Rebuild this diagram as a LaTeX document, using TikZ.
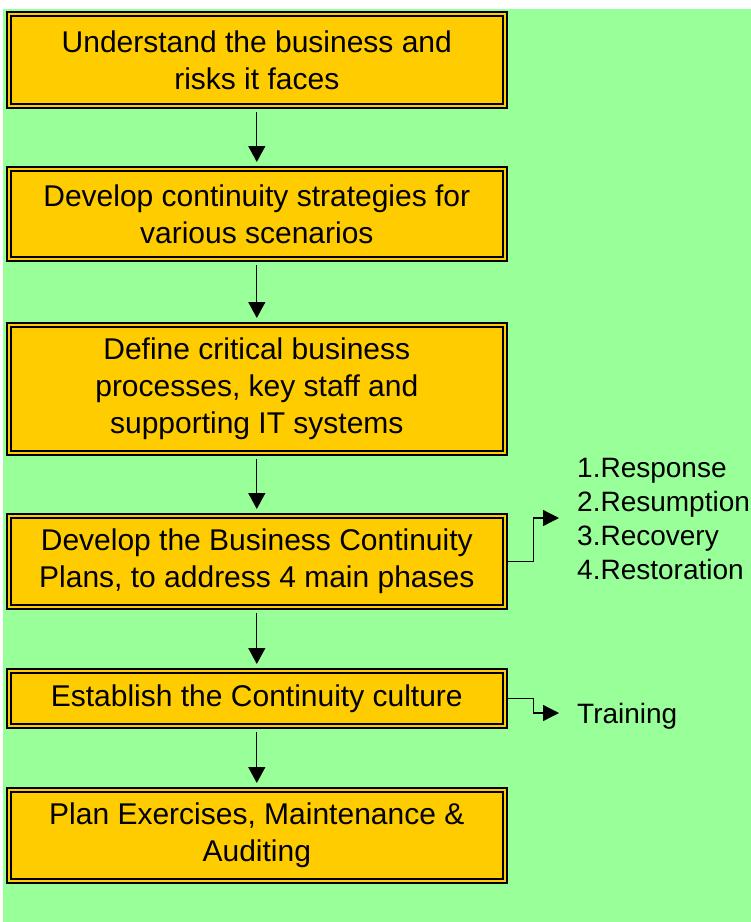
\documentclass[tikz,border=0pt]{standalone}
\usepackage{fontspec}
\setmainfont{Liberation Sans}
\usetikzlibrary{arrows.meta}
\definecolor{pagegreen}{HTML}{99FF99}
\definecolor{boxyellow}{HTML}{FFCC00}
\tikzset{
  stepbox/.style={draw=black, line width=2pt, double=boxyellow, double distance=2pt,
    fill=boxyellow, minimum width=496pt, inner sep=0pt, align=center,
    font=\fontsize{30}{37}\selectfont},
  flow/.style={line width=1.3pt, -{Triangle[length=16pt,width=17pt]},
    shorten <=5pt, shorten >=6pt},
  side/.style={line width=1.3pt, -{Triangle[length=16pt,width=16pt]}},
  note/.style={anchor=west, inner sep=0pt, align=left,
    font=\fontsize{28}{34}\selectfont}
}
\begin{document}
\begin{tikzpicture}[x=1pt,y=-1pt]
\useasboundingbox (0,0) rectangle (751,922);
\fill[pagegreen] (3,9) rectangle (751,922);

\node[stepbox, minimum height=92pt] (b1) at (256.8,60)
  {Understand the business and\\risks it faces};
\node[stepbox, minimum height=90pt] (b2) at (256.8,214)
  {Develop continuity strategies for\\various scenarios};
\node[stepbox, minimum height=128pt] (b3) at (256.8,389)
  {Define critical business\\processes, key staff and\\supporting IT systems};
\node[stepbox, minimum height=91pt] (b4) at (256.8,561.5)
  {Develop the Business Continuity\\Plans, to address 4 main phases};
\node[stepbox, minimum height=55pt] (b5) at (256.8,698.5)
  {Establish the Continuity culture};
\node[stepbox, minimum height=91pt] (b6) at (256.8,835.5)
  {Plan Exercises, Maintenance \&\\Auditing};

\draw[flow] (b1) -- (b2);
\draw[flow] (b2) -- (b3);
\draw[flow] (b3) -- (b4);
\draw[flow] (b4) -- (b5);
\draw[flow] (b5) -- (b6);

\node[note] (phases) at (577,519)
  {1.Response\\2.Resumption\\3.Recovery\\4.Restoration};
\node[note] (training) at (577,716) {Training};

\coordinate (p1) at (559,518);
\coordinate (p2) at (559,713);
\draw[side] (b4.east) -- ++(28,0) |- (p1);
\draw[side] (b5.east) -- ++(28,0) |- (p2);
\end{tikzpicture}
\end{document}
